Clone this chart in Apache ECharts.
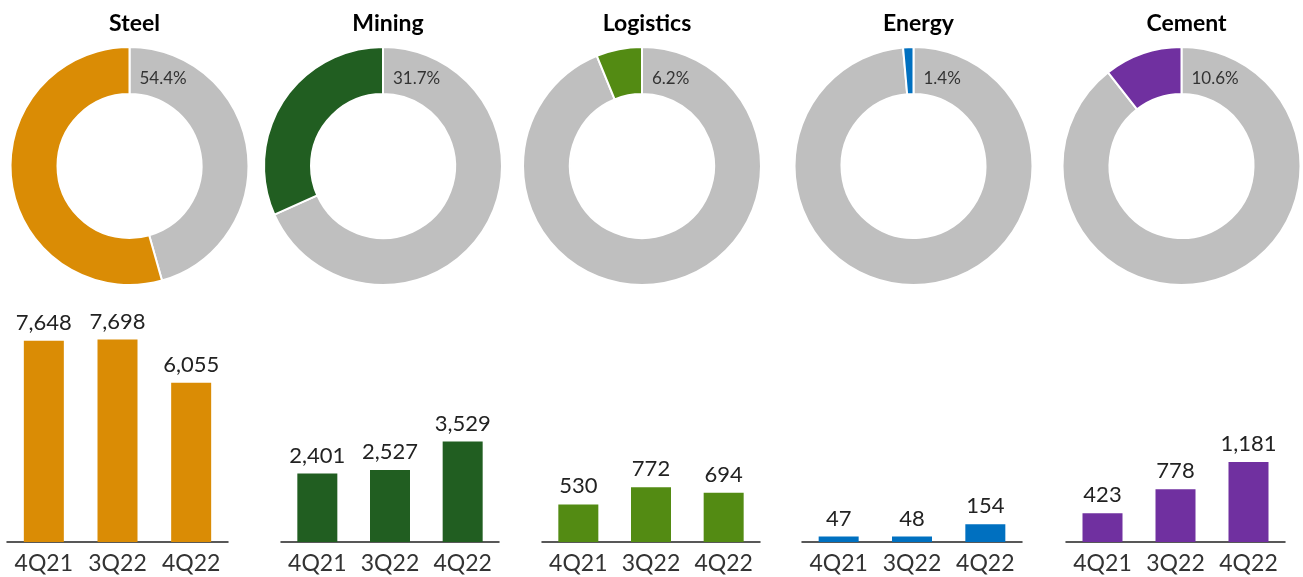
<!DOCTYPE html>
<html lang="en">
<head>
    <meta charset="UTF-8">
    <title>Segments - share and quarterly values</title>
    <script src="https://cdn.jsdelivr.net/npm/echarts@6/dist/echarts.min.js"></script>
    <style>
        html, body { margin: 0; padding: 0; background: #fff; }
        #chart { width: 1303px; height: 577px; }
    </style>
</head>
<body>
    <div id="chart"></div>
    <script>
        // data
        const sectors = ['Steel', 'Mining', 'Logistics', 'Energy', 'Cement'];
        const shares = [54.4, 31.7, 6.2, 1.4, 10.6];
        const quarters = ['4Q21', '3Q22', '4Q22'];
        const steel = [7648, 7698, 6055];
        const mining = [2401, 2527, 3529];
        const logistics = [530, 772, 694];
        const energy = [47, 48, 154];
        const cement = [423, 778, 1181];
        const values = [steel, mining, logistics, energy, cement];

        // layout / style
        const colors = ['#DA8C05', '#215E21', '#538B13', '#0070C0', '#7030A0'];
        const grey = '#BFBFBF';
        const pieX = [129.5, 383, 642, 913.5, 1181.5];
        const pieY = 166;
        const gridLeft = [7, 281, 542, 802, 1066];
        const gridWidth = [221, 218, 218, 220, 219];
        const axisMax = [9200, 8490, 3410, 2100, 3575];
        const font = 'Lato, "Open Sans", sans-serif';

        const chart = echarts.init(document.getElementById('chart'));

        const titles = [];
        const grids = [];
        const xAxes = [];
        const yAxes = [];
        const series = [];

        sectors.forEach((name, i) => {
            // sector name + share label
            titles.push({
                text: name,
                left: pieX[i],
                top: 7,
                textAlign: 'center',
                textStyle: { fontFamily: font, fontSize: 23, fontWeight: 'bold', color: '#000' }
            });
            titles.push({
                text: shares[i].toFixed(1) + '%',
                left: pieX[i] + 5,
                top: 65,
                textStyle: { fontFamily: font, fontSize: 17, fontWeight: 'normal', color: '#333' }
            });

            series.push({
                type: 'pie',
                center: [pieX[i], pieY],
                radius: [72, 119],
                startAngle: 90,
                clockwise: true,
                silent: true,
                label: { show: false },
                labelLine: { show: false },
                itemStyle: { borderColor: '#fff', borderWidth: 2 },
                data: [
                    { value: +(100 - shares[i]).toFixed(1), itemStyle: { color: grey } },
                    { value: shares[i], itemStyle: { color: colors[i] } }
                ]
            });

            // quarterly bars
            grids.push({ left: gridLeft[i], width: gridWidth[i], top: 300, height: 242 });
            xAxes.push({
                type: 'category',
                gridIndex: i,
                data: quarters,
                axisLine: { lineStyle: { color: '#222', width: 1.5 } },
                axisTick: { show: false },
                axisLabel: { interval: 0, fontFamily: font, fontSize: 23, color: '#333', margin: 10 }
            });
            yAxes.push({
                type: 'value',
                gridIndex: i,
                min: 0,
                max: axisMax[i],
                show: false,
                splitLine: { show: false }
            });
            series.push({
                type: 'bar',
                xAxisIndex: i,
                yAxisIndex: i,
                barWidth: 40,
                silent: true,
                itemStyle: { color: colors[i] },
                label: {
                    show: true,
                    position: 'top',
                    distance: 7,
                    fontFamily: font,
                    fontSize: 22,
                    color: '#222',
                    formatter: p => p.value.toLocaleString('en-US')
                },
                data: values[i]
            });
        });

        chart.setOption({
            animation: false,
            title: titles,
            grid: grids,
            xAxis: xAxes,
            yAxis: yAxes,
            series: series
        });
    </script>
</body>
</html>
